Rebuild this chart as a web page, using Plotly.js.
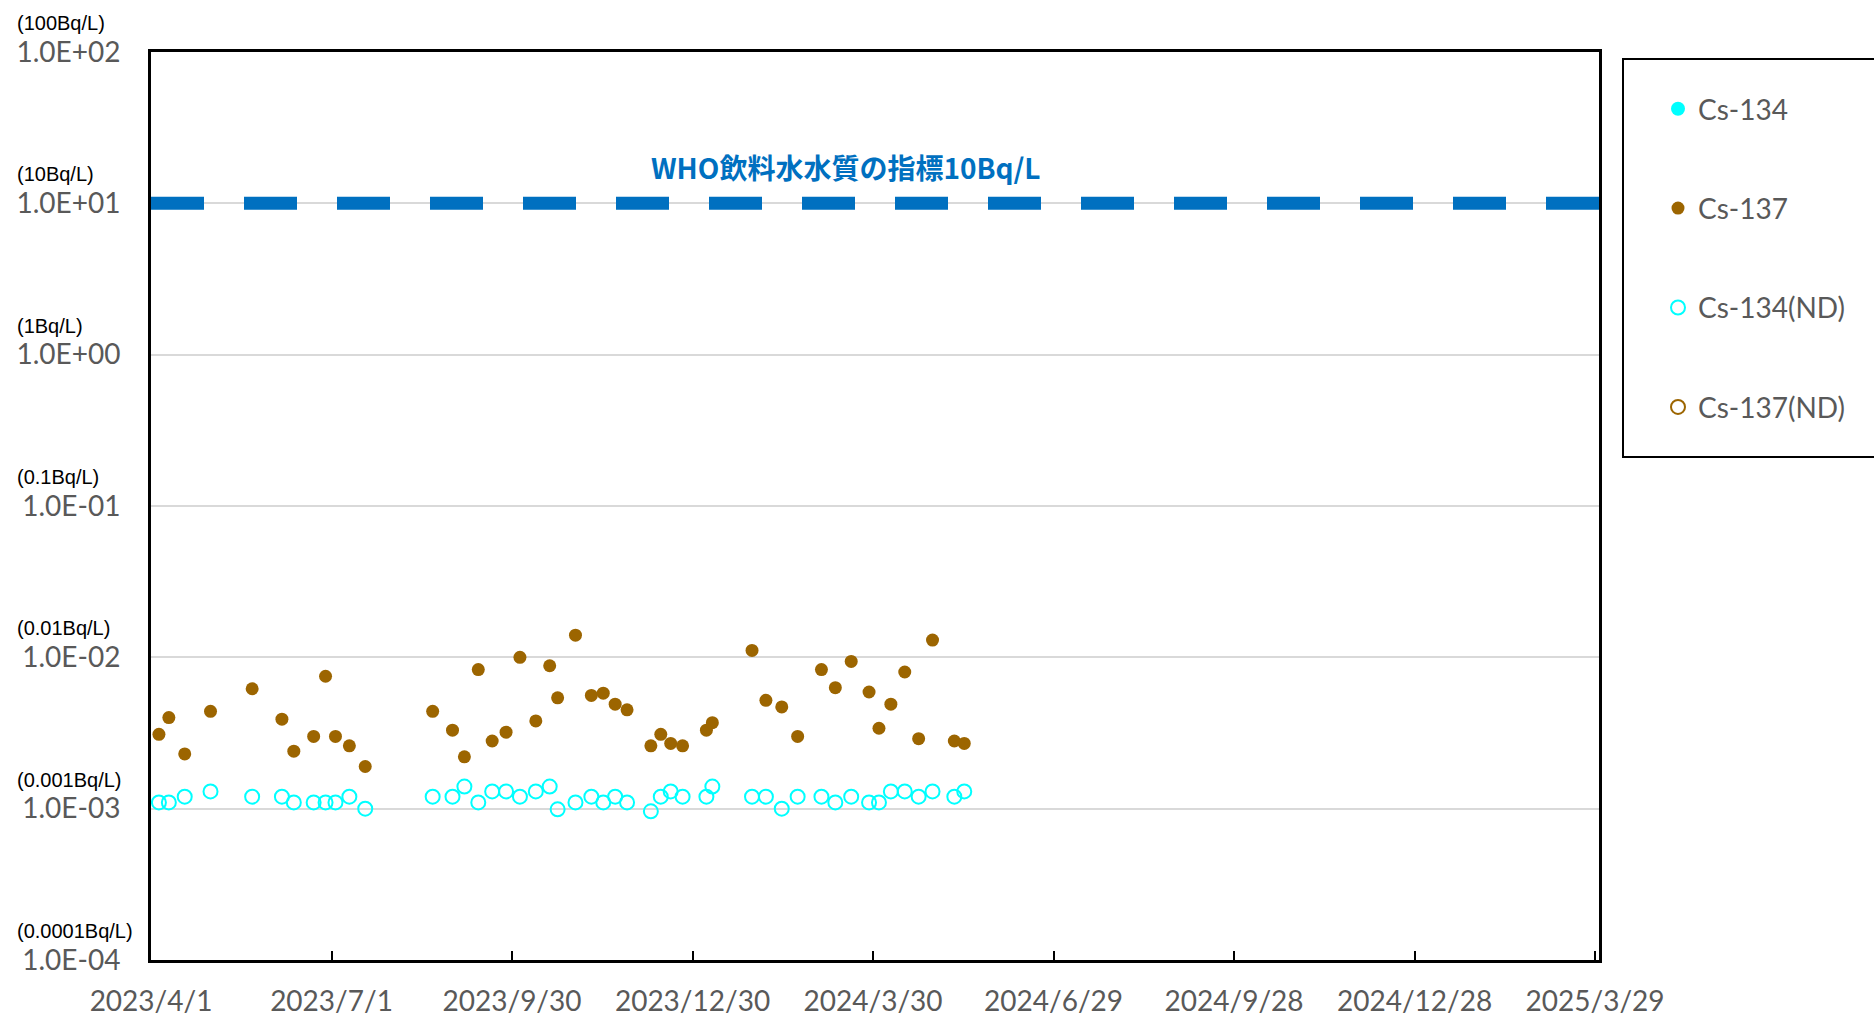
<!DOCTYPE html>
<html><head><meta charset="utf-8">
<script src="https://cdn.plot.ly/plotly-3.0.1.min.js"></script>
<style>html,body{margin:0;padding:0;background:#fff;overflow:hidden;} #chart{width:1874px;height:1017px;}</style>
</head><body><div id="chart"></div>
<script>
// ---- data ----
const sampleDates = [
  '2023-04-05','2023-04-10','2023-04-18','2023-05-01','2023-05-22','2023-06-06','2023-06-12','2023-06-22',
  '2023-06-28','2023-07-03','2023-07-10','2023-07-18','2023-08-21','2023-08-31','2023-09-06','2023-09-13',
  '2023-09-20','2023-09-27','2023-10-04','2023-10-12','2023-10-19','2023-10-23','2023-11-01','2023-11-09',
  '2023-11-15','2023-11-21','2023-11-27','2023-12-09','2023-12-14','2023-12-19','2023-12-25','2024-01-06',
  '2024-01-09','2024-01-29','2024-02-05','2024-02-13','2024-02-21','2024-03-04','2024-03-11','2024-03-19',
  '2024-03-28','2024-04-02','2024-04-08','2024-04-15','2024-04-22','2024-04-29','2024-05-10','2024-05-15'
];
const cs137 = [
  0.0031,0.0040,0.0023,0.0044,0.0062,0.0039,0.0024,0.0030,
  0.0075,0.0030,0.0026,0.0019,0.0044,0.0033,0.0022,0.0083,
  0.0028,0.0032,0.0100,0.0038,0.0088,0.0054,0.0140,0.0056,
  0.0058,0.0049,0.0045,0.0026,0.0031,0.0027,0.0026,0.0033,
  0.0037,0.0111,0.0052,0.0047,0.0030,0.0083,0.0063,0.0094,
  0.0059,0.0034,0.0049,0.0080,0.0029,0.0130,0.0028,0.0027
];
const cs134ND = [
  0.0011,0.0011,0.0012,0.0013,0.0012,0.0012,0.0011,0.0011,
  0.0011,0.0011,0.0012,0.0010,0.0012,0.0012,0.0014,0.0011,
  0.0013,0.0013,0.0012,0.0013,0.0014,0.00099,0.0011,0.0012,
  0.0011,0.0012,0.0011,0.00096,0.0012,0.0013,0.0012,0.0012,
  0.0014,0.0012,0.0012,0.0010,0.0012,0.0012,0.0011,0.0012,
  0.0011,0.0011,0.0013,0.0013,0.0012,0.0013,0.0012,0.0013
];
const cs134Dates = [null];   // Cs-134 detected: none (legend entry only)
const cs134 = [null];
const cs137NDDates = [null]; // Cs-137 not detected: none (legend entry only)
const cs137ND = [null];

const yTickVals = [1e-4, 1e-3, 1e-2, 1e-1, 1, 10, 100];
const yTickText = ['1.0E-04','1.0E-03','1.0E-02','1.0E-01','1.0E+00','1.0E+01','1.0E+02'];
const yUnitText = ['(0.0001Bq/L)','(0.001Bq/L)','(0.01Bq/L)','(0.1Bq/L)','(1Bq/L)','(10Bq/L)','(100Bq/L)'];
const whoLimit = 10;
const whoLabel = 'WHO飲料水水質の指標10Bq/L';
const xRange = ['2023-04-01', '2025-03-31'];
const xTick0 = '2023-04-01';
const xTickDays = 91;

// ---- style ----
const CYAN = '#00FFFF';
const BROWN = '#9C6500';
const GRAY = '#595959';
const TICKFONT = {family: 'Lato, "Open Sans", sans-serif', size: 28, color: GRAY};

const traces = [
  {name: 'Cs-134', x: cs134Dates, y: cs134, type: 'scatter', mode: 'markers',
   legendgroup: 'a', marker: {color: CYAN, size: 14, symbol: 'circle'}},
  {name: 'Cs-137', x: sampleDates, y: cs137, type: 'scatter', mode: 'markers',
   legendgroup: 'b', marker: {color: BROWN, size: 13, symbol: 'circle'}},
  {name: 'Cs-134(ND)', x: sampleDates, y: cs134ND, type: 'scatter', mode: 'markers',
   legendgroup: 'c', marker: {color: CYAN, size: 14, symbol: 'circle-open', line: {color: CYAN, width: 2}}},
  {name: 'Cs-137(ND)', x: cs137NDDates, y: cs137ND, type: 'scatter', mode: 'markers',
   legendgroup: 'd', marker: {color: BROWN, size: 14, symbol: 'circle-open', line: {color: BROWN, width: 2}}}
];

const L = 151, R = 1599, T = 52, B = 960, W = 1874, H = 1017;
const pw = R - L, ph = B - T;
const px2x = p => (p - L) / pw;
const px2y = p => (B - p) / ph;

const annotations = yTickVals.map((v, i) => ({
  xref: 'paper', yref: 'y', x: px2x(15), y: Math.log10(v), xanchor: 'left', yanchor: 'middle',
  yshift: 29, showarrow: false, text: yUnitText[i],
  font: {family: '"Liberation Sans", Arial, sans-serif', size: 20, color: '#000'}
}));
annotations.push({
  xref: 'paper', yref: 'y', x: px2x(846), y: Math.log10(whoLimit), xanchor: 'center', yanchor: 'middle',
  yshift: 36, showarrow: false, text: '<b>' + whoLabel + '</b>',
  font: {family: '"Noto Sans CJK JP", sans-serif', size: 28, color: '#0070C0'}
});

const layout = {
  width: W, height: H,
  margin: {l: L, r: W - R, t: T, b: H - B, pad: 0},
  paper_bgcolor: '#fff', plot_bgcolor: '#fff',
  showlegend: true,
  legend: {
    xref: 'container', yref: 'container', x: 1658 / W, y: 1 - 84 / H, xanchor: 'left', yanchor: 'top',
    bgcolor: 'rgba(0,0,0,0)', borderwidth: 0, traceorder: 'grouped', tracegroupgap: 60,
    font: {family: 'Lato, "Open Sans", sans-serif', size: 28, color: GRAY}, itemsizing: 'trace'
  },
  xaxis: {
    type: 'date', range: xRange, tick0: xTick0, dtick: xTickDays * 86400000,
    tickformat: '%Y/%-m/%-d', ticks: 'inside', ticklen: 9, tickwidth: 2, tickcolor: '#000',
    showline: true, linecolor: '#000', linewidth: 3, mirror: true, showgrid: false, zeroline: false,
    tickfont: TICKFONT, ticklabelstandoff: 14, fixedrange: true
  },
  yaxis: {
    type: 'log', range: [-4, 2], tickmode: 'array', tickvals: yTickVals, ticktext: yTickText,
    ticks: '', showline: true, linecolor: '#000', linewidth: 3, mirror: true,
    showgrid: true, gridcolor: '#d9d9d9', gridwidth: 2, zeroline: false,
    tickfont: TICKFONT, ticklabelstandoff: 22, fixedrange: true
  },
  shapes: [
    {type: 'line', xref: 'paper', yref: 'y', x0: 0, x1: 1, y0: whoLimit, y1: whoLimit,
     line: {color: '#0070C0', width: 13, dash: '53px,40px'}, layer: 'above'},
    {type: 'rect', xref: 'paper', yref: 'paper', x0: px2x(1623), x1: px2x(1884), y0: px2y(457), y1: px2y(59),
     line: {color: '#000', width: 2}, fillcolor: 'rgba(0,0,0,0)', layer: 'above'}
  ],
  annotations: annotations
};

Plotly.newPlot('chart', traces, layout, {displayModeBar: false, staticPlot: true});
</script>
</body></html>
